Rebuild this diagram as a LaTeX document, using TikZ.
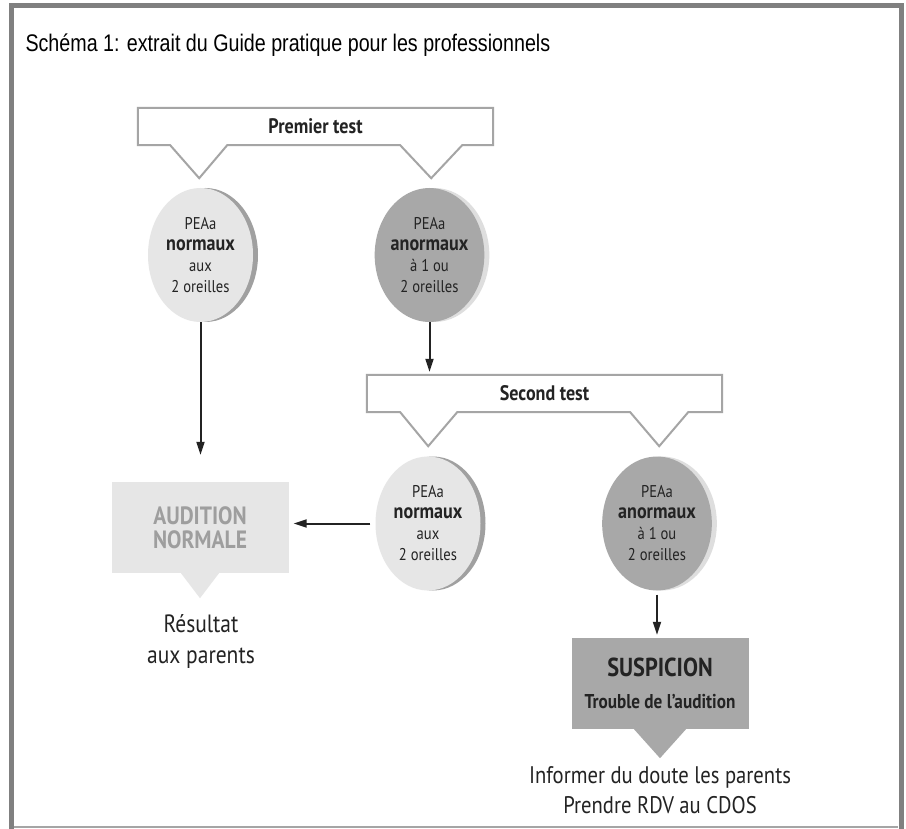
\documentclass[tikz,border=0pt]{standalone}
\usepackage{fontspec}
\setmainfont{Liberation Sans}
\newfontfamily\titrefont[FakeStretch=0.82]{Liberation Sans}
\newfontfamily\schemafont[FakeStretch=0.86]{PT Sans}
\usetikzlibrary{shapes.geometric,arrows.meta,shadows,calc}
\definecolor{grisCadre}{RGB}{128,128,128}
\definecolor{grisBord}{RGB}{165,165,165}
\definecolor{grisPale}{RGB}{230,230,230}
\definecolor{grisOmbre}{RGB}{160,160,160}
\definecolor{grisMoyen}{RGB}{168,168,168}
\definecolor{grisClair}{RGB}{222,222,222}
\definecolor{texteFonce}{RGB}{35,35,35}
\definecolor{texteAudition}{RGB}{158,158,158}

\tikzset{
  bulle/.style={draw=grisBord, line width=2pt, line join=miter},
  titrebulle/.style={minimum width=355pt, minimum height=37pt, inner sep=0pt,
    font=\schemafont\bfseries\fontsize{21}{25}\selectfont, text=texteFonce},
  peabase/.style={ellipse, minimum width=105pt, minimum height=134pt, inner sep=0pt,
    align=center, text=texteFonce, font=\schemafont\fontsize{17}{21}\selectfont},
  peanormal/.style={peabase, fill=grisPale,
    general shadow={fill=grisOmbre, shadow xshift=5pt}},
  peaanormal/.style={peabase, fill=grisMoyen,
    general shadow={fill=grisClair, shadow xshift=5pt}},
  resultat/.style={minimum width=177pt, minimum height=91pt, inner sep=0pt, align=center},
  consigne/.style={align=center, text=texteFonce, font=\schemafont\fontsize{25}{31}\selectfont},
  fleche/.style={-{Triangle[length=13pt,width=8pt]}, draw=texteFonce, line width=2pt}
}
\newcommand{\motfort}[1]{{\fontsize{21}{21}\selectfont\bfseries #1}}

\begin{document}
\begin{tikzpicture}[x=1pt, y=-1pt]

\fill[white] (0,0) rectangle (906,829);
\useasboundingbox (0,0) rectangle (906,829);

% cadre
\draw[grisCadre, line width=5pt] (11.5,829) -- (11.5,5.5) -- (901,5.5) -- (901,829);
\draw[grisBord, line width=1.5pt] (14,827) -- (898,827);

\node[anchor=base west, font=\titrefont\fontsize{24}{28}\selectfont] (titre) at (22,52)
  {Schéma 1: extrait du Guide pratique pour les professionnels};

% premier test
\node[titrebulle] (premier) at (315.5,126.5) {Premier test};
\draw[bulle] (premier.north west) -- (premier.north east) -- (premier.south east)
  -- ++(-31,0) -- ++(-31,33) -- ++(-31,-33) -- ++(-173,0) -- ++(-28,33) -- ++(-29,-33)
  -- (premier.south west) -- cycle;

\node[peanormal] (pea1n) at (200.5,255) {PEAa\\\motfort{normaux}\\aux\\2 oreilles};
\node[peaanormal] (pea1a) at (429.5,255) {PEAa\\\motfort{anormaux}\\à 1 ou\\2 oreilles};

% second test
\node[titrebulle] (second) at (544.5,393.5) {Second test};
\draw[bulle] (second.north west) -- (second.north east) -- (second.south east)
  -- ++(-34,0) -- ++(-29,34) -- ++(-29,-34) -- ++(-173,0) -- ++(-29,34) -- ++(-28,-34)
  -- (second.south west) -- cycle;

\node[peanormal] (pea2n) at (428,523.5) {PEAa\\\motfort{normaux}\\aux\\2 oreilles};
\node[peaanormal] (pea2a) at (657,523.5) {PEAa\\\motfort{anormaux}\\à 1 ou\\2 oreilles};

% resultats
\node[resultat, fill=grisPale, text=texteAudition,
  font=\schemafont\bfseries\fontsize{25}{24}\selectfont] (audition) at (200,527.5)
  {AUDITION\\NORMALE};
\fill[grisPale] ($(audition.south)+(-19,0)$) -- ($(audition.south)+(19,0)$)
  -- ($(audition.south)+(0,25)$) -- cycle;
\node[consigne] (parents) at (201,641) {Résultat\\aux parents};

\node[resultat, fill=grisMoyen, text=texteFonce, font=\schemafont\bfseries\fontsize{26}{32}\selectfont]
  (suspicion) at (660,683.5)
  {SUSPICION\\{\fontsize{20}{20}\selectfont Trouble de l’audition}};
\fill[grisMoyen] ($(suspicion.south)+(-26,0)$) -- ($(suspicion.south)+(26,0)$)
  -- ($(suspicion.south)+(0,29)$) -- cycle;
\node[consigne, font=\schemafont\fontsize{24}{30}\selectfont] (informer) at (660,790)
  {Informer du doute les parents\\Prendre RDV au CDOS};

% fleches
\draw[fleche, shorten >=27pt] (pea1n.south) -- (pea1n.south |- audition.north);
\draw[fleche, shorten >=3pt] (pea1a.south) -- (pea1a.south |- second.north);
\draw[fleche, shorten <=5pt, shorten >=5pt] (pea2n.west) -- (pea2n.west -| audition.east);
\draw[fleche, shorten <=4pt, shorten >=3pt] (pea2a.south) -- (pea2a.south |- suspicion.north);

\end{tikzpicture}
\end{document}
